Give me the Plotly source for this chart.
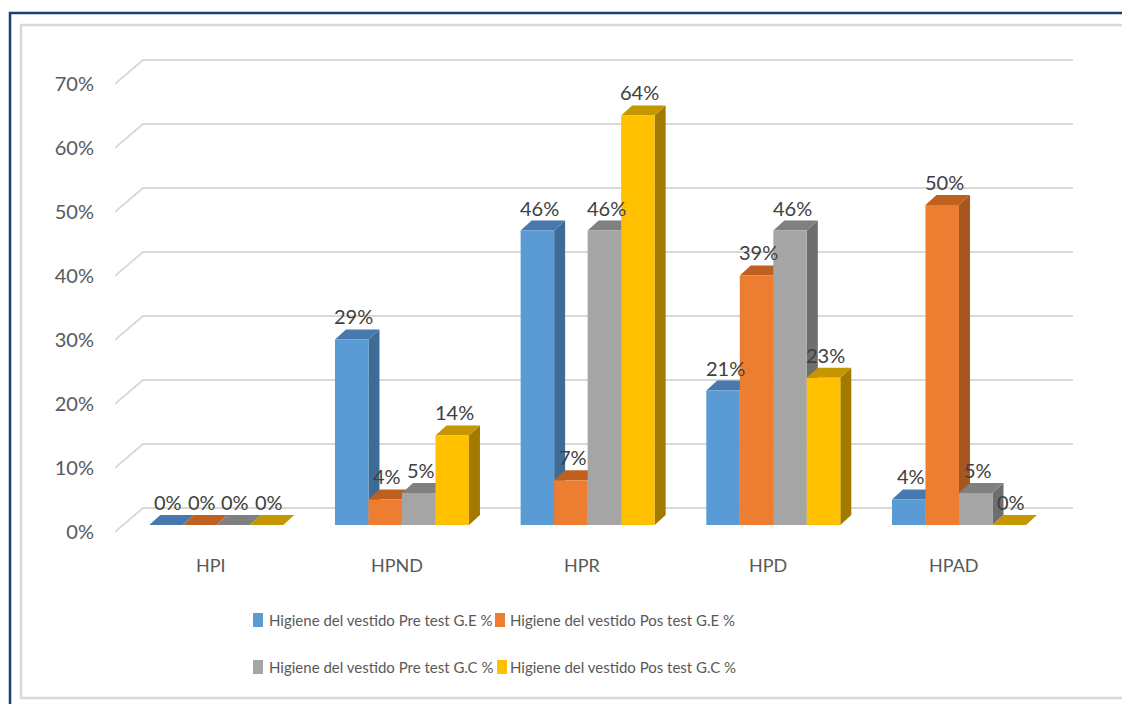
import plotly.graph_objects as go

# ---------------- data ----------------
categories = ["HPI", "HPND", "HPR", "HPD", "HPAD"]
series_names = [
    "Higiene del vestido Pre test G.E %",
    "Higiene del vestido Pos test G.E %",
    "Higiene del vestido Pre test G.C %",
    "Higiene del vestido Pos test G.C %",
]
pre_ge = [0.00, 0.29, 0.46, 0.21, 0.04]
pos_ge = [0.00, 0.04, 0.07, 0.39, 0.50]
pre_gc = [0.00, 0.05, 0.46, 0.46, 0.05]
pos_gc = [0.00, 0.14, 0.64, 0.23, 0.00]
y_ticks = [0.0, 0.1, 0.2, 0.3, 0.4, 0.5, 0.6, 0.7]
y_tick_labels = ["0%", "10%", "20%", "30%", "40%", "50%", "60%", "70%"]

series_values = [pre_ge, pos_ge, pre_gc, pos_gc]

# ---------------- style ----------------
front_colors = ["#5B9BD5", "#ED7D31", "#A5A5A5", "#FFC000"]
side_colors = ["#3F6C96", "#A8561F", "#6E6E6E", "#A37A00"]
top_colors = ["#4879AE", "#BF6021", "#808080", "#C49600"]
FONT = "Lato, 'Open Sans', sans-serif"

W, H = 1122, 704
PLOT_L, PLOT_R, PLOT_T, PLOT_B = 115, 1073, 50, 545
PX_X = 185.67          # pixels per category step
PX_Y = 640.0           # pixels per 1.0 (100%)
ZERO_PX = 532          # pixel row of the front 0% line
FIRST_CENTER_PX = 216.3

x_min = (PLOT_L - FIRST_CENTER_PX) / PX_X
x_max = (PLOT_R - FIRST_CENTER_PX) / PX_X
y_min = (ZERO_PX - PLOT_B) / PX_Y
y_max = (ZERO_PX - PLOT_T) / PX_Y

bw = 33.5 / PX_X                 # bar width
ddx = 11 / PX_X                  # bar depth (x)
ddy = 10 / PX_Y                  # bar depth (y)
base = 7 / PX_Y                  # bars stand slightly behind the front edge
gdx = 28 / PX_X                  # wall depth (x)
gdy = 24 / PX_Y                  # wall depth (y)

# legend layout (page px): swatch left, text left, row centre
legend_pos = [(253, 267, 620), (495, 508, 620), (253, 267, 667), (497, 508, 667)]


def px_paper_x(px):
    return (px - PLOT_L) / (PLOT_R - PLOT_L)


def px_paper_y(py):
    return (PLOT_B - py) / (PLOT_B - PLOT_T)


fig = go.Figure()
shapes = []
annotations = []

# back-wall gridlines
for v in y_ticks:
    path = (f"M{x_min},{v} L{x_min + gdx},{v + gdy} L{x_max},{v + gdy}")
    shapes.append(dict(type="path", path=path, xref="x", yref="y",
                       line=dict(color="#D9D9D9", width=1.8), layer="below"))

xs = list(range(len(categories)))
for k, vals in enumerate(series_values):
    off = -2 * bw + k * bw
    # 3D side and top faces
    for i, v in zip(xs, vals):
        x0 = i + off
        x1 = x0 + bw
        y0 = base
        y1 = base + v
        side = (f"M{x1},{y0} L{x1 + ddx},{y0 + ddy} L{x1 + ddx},{y1 + ddy} "
                f"L{x1},{y1} Z")
        top = (f"M{x0},{y1} L{x0 + ddx},{y1 + ddy} L{x1 + ddx},{y1 + ddy} "
               f"L{x1},{y1} Z")
        shapes.append(dict(type="path", path=side, xref="x", yref="y",
                           fillcolor=side_colors[k], line=dict(width=0),
                           layer="between"))
        shapes.append(dict(type="path", path=top, xref="x", yref="y",
                           fillcolor=top_colors[k], line=dict(width=0),
                           layer="between"))
        annotations.append(dict(
            x=x0 + bw / 2 + 2 / PX_X, y=y1, xref="x", yref="y",
            text=f"{round(v * 100)}%", showarrow=False, yshift=23,
            font=dict(family=FONT, size=20, color="#404040")))
    fig.add_trace(go.Bar(
        x=xs, y=vals, base=base, width=bw, offset=off,
        name=series_names[k], marker=dict(color=front_colors[k], line=dict(width=0)),
        showlegend=False,
        hovertemplate=series_names[k] + ": %{y:.0%}<extra></extra>",
    ))

# category labels
for i, c in enumerate(categories):
    annotations.append(dict(
        x=i - 5 / PX_X, y=px_paper_y(565), xref="x", yref="paper",
        text=c, showarrow=False, yanchor="middle",
        font=dict(family=FONT, size=18, color="#595959")))

# legend (swatches + text)
for k, (sx, tx, ty) in enumerate(legend_pos):
    shapes.append(dict(type="rect", xref="paper", yref="paper",
                       x0=px_paper_x(sx), x1=px_paper_x(sx + 10),
                       y0=px_paper_y(ty + 7), y1=px_paper_y(ty - 7),
                       fillcolor=front_colors[k], line=dict(width=0)))
    annotations.append(dict(
        x=px_paper_x(tx), y=px_paper_y(ty), xref="paper", yref="paper",
        xanchor="left", yanchor="middle", text=series_names[k],
        showarrow=False, font=dict(family=FONT, size=15, color="#595959")))

# chart frame
shapes.append(dict(type="rect", xref="paper", yref="paper",
                   x0=px_paper_x(21), x1=px_paper_x(1140),
                   y0=px_paper_y(698), y1=px_paper_y(25),
                   line=dict(color="#D9D9D9", width=2.5), layer="below"))
shapes.append(dict(type="rect", xref="paper", yref="paper",
                   x0=px_paper_x(10), x1=px_paper_x(1140),
                   y0=px_paper_y(720), y1=px_paper_y(13),
                   line=dict(color="#1F3B78", width=2.5), layer="below"))

fig.update_layout(
    width=W, height=H,
    margin=dict(l=PLOT_L, r=W - PLOT_R, t=PLOT_T, b=H - PLOT_B),
    paper_bgcolor="white", plot_bgcolor="white",
    barmode="overlay", showlegend=False,
    font=dict(family=FONT, color="#595959"),
    shapes=shapes, annotations=annotations,
    xaxis=dict(range=[x_min, x_max], showgrid=False, zeroline=False,
               showticklabels=False, showline=False, fixedrange=True),
    yaxis=dict(range=[y_min, y_max], tickvals=y_ticks, ticktext=y_tick_labels,
               showgrid=False, zeroline=False, showline=False,
               ticks="outside", ticklen=16, tickcolor="rgba(0,0,0,0)",
               tickfont=dict(family=FONT, size=20, color="#595959")),
)

fig.write_html(
    "out.html",
    config={"displayModeBar": False},
    post_script="document.body.style.margin='0';"
                "document.body.style.overflow='hidden';",
)
